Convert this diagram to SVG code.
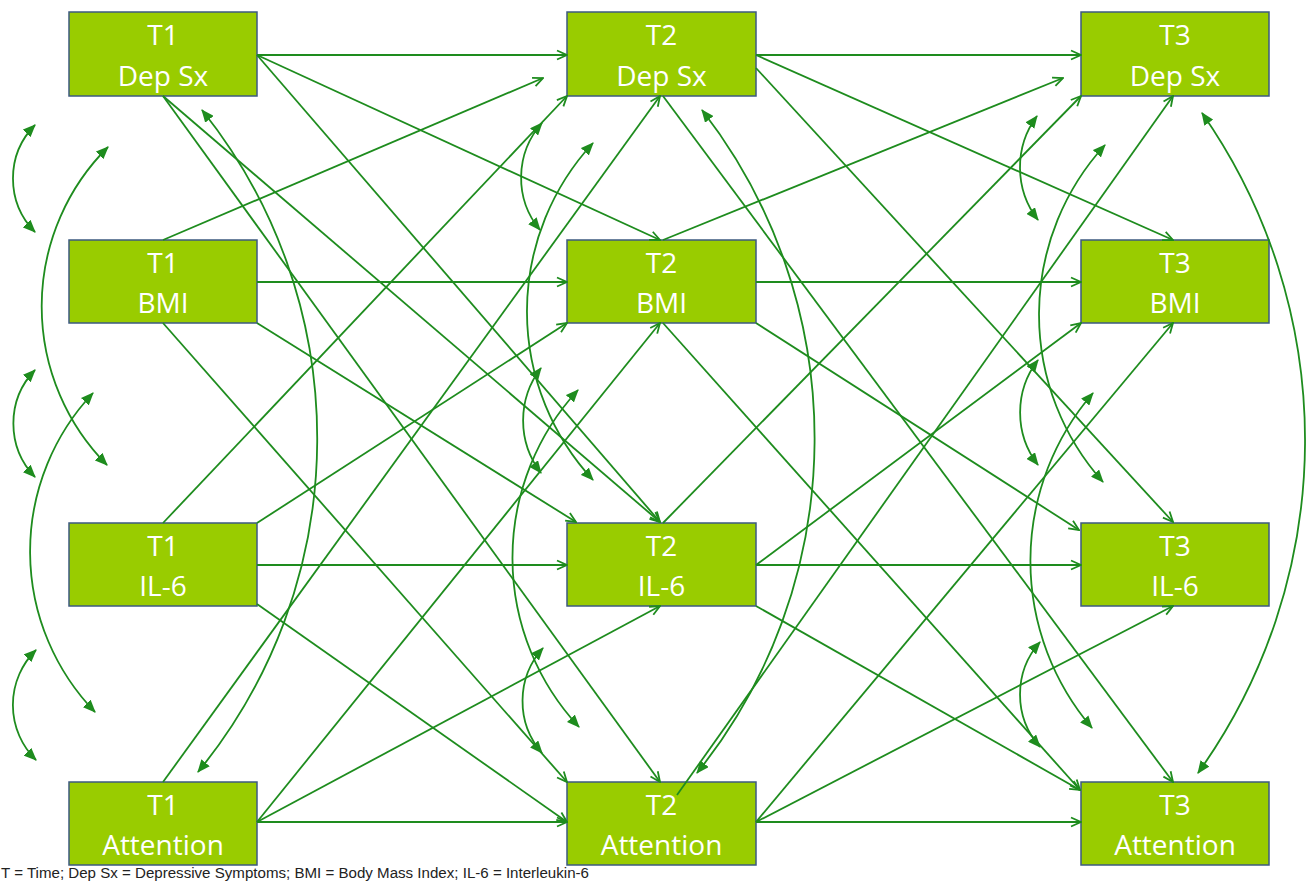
<svg xmlns="http://www.w3.org/2000/svg" width="1309" height="892" viewBox="0 0 1309 892">
<defs>
<style>
.box{fill:#99cc00;stroke:#3d5a80;stroke-width:1.5}
.lbl{font-family:"Open Sans","Noto Sans",sans-serif;font-size:28px;fill:#ffffff;text-anchor:middle}
.reg{fill:none;stroke:#1e8c1e;stroke-width:1.8;marker-end:url(#open)}
.cov{fill:none;stroke:#1e8c1e;stroke-width:1.8;marker-start:url(#solid);marker-end:url(#solid)}
.note{font-family:"Liberation Sans",Arial,sans-serif;font-size:14px;fill:#222222}
</style>
<marker id="open" viewBox="0 0 12 12" refX="11" refY="6" markerWidth="12" markerHeight="12" markerUnits="userSpaceOnUse" orient="auto">
<path d="M1,1.5 L11,6 L1,10.5" fill="none" stroke="#1e8c1e" stroke-width="1.8"/>
</marker>
<marker id="solid" viewBox="0 0 12 10" refX="11" refY="5" markerWidth="13" markerHeight="11" markerUnits="userSpaceOnUse" orient="auto-start-reverse">
<path d="M0,0 L12,5 L0,10 Z" fill="#1e8c1e"/>
</marker>
</defs>
<rect width="1309" height="892" fill="#ffffff"/>

<g id="t1-dep"><rect class="box" x="69" y="12" width="188" height="84"/><text class="lbl" x="163" y="45">T1</text><text class="lbl" x="163" y="86">Dep Sx</text></g>
<g id="t1-bmi"><rect class="box" x="69" y="240" width="188" height="83"/><text class="lbl" x="163" y="273">T1</text><text class="lbl" x="163" y="313">BMI</text></g>
<g id="t1-il6"><rect class="box" x="69" y="523" width="188" height="83"/><text class="lbl" x="163" y="556">T1</text><text class="lbl" x="163" y="596">IL-6</text></g>
<g id="t1-att"><rect class="box" x="69" y="782" width="188" height="83"/><text class="lbl" x="163" y="815">T1</text><text class="lbl" x="163" y="855">Attention</text></g>

<g id="t2-dep"><rect class="box" x="567" y="12" width="189" height="84"/><text class="lbl" x="661.5" y="45">T2</text><text class="lbl" x="661.5" y="86">Dep Sx</text></g>
<g id="t2-bmi"><rect class="box" x="567" y="240" width="189" height="83"/><text class="lbl" x="661.5" y="273">T2</text><text class="lbl" x="661.5" y="313">BMI</text></g>
<g id="t2-il6"><rect class="box" x="567" y="523" width="189" height="83"/><text class="lbl" x="661.5" y="556">T2</text><text class="lbl" x="661.5" y="596">IL-6</text></g>
<g id="t2-att"><rect class="box" x="567" y="782" width="189" height="83"/><text class="lbl" x="661.5" y="815">T2</text><text class="lbl" x="661.5" y="855">Attention</text></g>

<g id="t3-dep"><rect class="box" x="1081" y="12" width="188" height="84"/><text class="lbl" x="1175" y="45">T3</text><text class="lbl" x="1175" y="86">Dep Sx</text></g>
<g id="t3-bmi"><rect class="box" x="1081" y="240" width="188" height="83"/><text class="lbl" x="1175" y="273">T3</text><text class="lbl" x="1175" y="313">BMI</text></g>
<g id="t3-il6"><rect class="box" x="1081" y="523" width="188" height="83"/><text class="lbl" x="1175" y="556">T3</text><text class="lbl" x="1175" y="596">IL-6</text></g>
<g id="t3-att"><rect class="box" x="1081" y="782" width="188" height="83"/><text class="lbl" x="1175" y="815">T3</text><text class="lbl" x="1175" y="855">Attention</text></g>

<g id="connectors">
<!-- T1 -> T2 -->
<path class="reg" d="M257,55 L567,55"/>
<path class="reg" d="M257,55 L660,240"/>
<path class="reg" d="M257,55 L660,522"/>
<path class="reg" d="M163,96 L660,522"/>
<path class="reg" d="M163,96 L660,782"/>
<path class="reg" d="M163,240 L543,78"/>
<path class="reg" d="M257,282 L567,282"/>
<path class="reg" d="M257,323 L576,522"/>
<path class="reg" d="M163,323 L567,782"/>
<path class="reg" d="M163,523 L567,96"/>
<path class="reg" d="M257,523 L567,323"/>
<path class="reg" d="M257,565 L567,565"/>
<path class="reg" d="M257,604 L567,822"/>
<path class="reg" d="M163,782 L660,96"/>
<path class="reg" d="M257,822 L660,323"/>
<path class="reg" d="M257,822 L660,606"/>
<path class="reg" d="M257,822 L567,822"/>
<!-- T2 -> T3 -->
<path class="reg" d="M756,55 L1081,55"/>
<path class="reg" d="M756,55 L1173,240"/>
<path class="reg" d="M756,68 L1173,522"/>
<path class="reg" d="M663,96 L1173,782"/>
<path class="reg" d="M663,240 L1063,78"/>
<path class="reg" d="M756,282 L1081,282"/>
<path class="reg" d="M756,323 L1079,530"/>
<path class="reg" d="M663,323 L1080,790"/>
<path class="reg" d="M663,523 L1081,96"/>
<path class="reg" d="M756,565 L1081,323"/>
<path class="reg" d="M756,565 L1081,565"/>
<path class="reg" d="M756,606 L1080,790"/>
<path class="reg" d="M677,795 L1173,96"/>
<path class="reg" d="M756,822 L1173,323"/>
<path class="reg" d="M756,822 L1173,606"/>
<path class="reg" d="M756,822 L1081,822"/>
<!-- T1 covariances -->
<path class="cov" d="M35,125 A76,76 0 0,0 35,232"/>
<path class="cov" d="M35,370 A77,77 0 0,0 35,477"/>
<path class="cov" d="M36,650 A77,77 0 0,0 36,760"/>
<path class="cov" d="M108,147 A225,225 0 0,0 107,465"/>
<path class="cov" d="M93,393 A231,231 0 0,0 95,712"/>
<path class="cov" d="M202,110 A526,526 0 0,1 198,772"/>
<!-- T2 covariances -->
<path class="cov" d="M542,123 A82,82 0 0,0 540,230"/>
<path class="cov" d="M541,368 A86,86 0 0,0 541,473"/>
<path class="cov" d="M543,648 A79,79 0 0,0 542,753"/>
<path class="cov" d="M593,143 A248,248 0 0,0 593,480"/>
<path class="cov" d="M578,390 A248,248 0 0,0 579,727"/>
<path class="cov" d="M702,110 A535,535 0 0,1 697,773"/>
<!-- T3 covariances -->
<path class="cov" d="M1037,116 A86,86 0 0,0 1038,220"/>
<path class="cov" d="M1038,360 A86,86 0 0,0 1038,465"/>
<path class="cov" d="M1040,642 A79,79 0 0,0 1040,747"/>
<path class="cov" d="M1105,145 A251,251 0 0,0 1103,482"/>
<path class="cov" d="M1093,393 A257,257 0 0,0 1092,728"/>
<path class="cov" d="M1202,113 A571,571 0 0,1 1198,773"/>
</g>

<text class="note" x="1" y="878" textLength="588" lengthAdjust="spacingAndGlyphs">T = Time; Dep Sx = Depressive Symptoms; BMI = Body Mass Index; IL-6 = Interleukin-6</text>
</svg>
